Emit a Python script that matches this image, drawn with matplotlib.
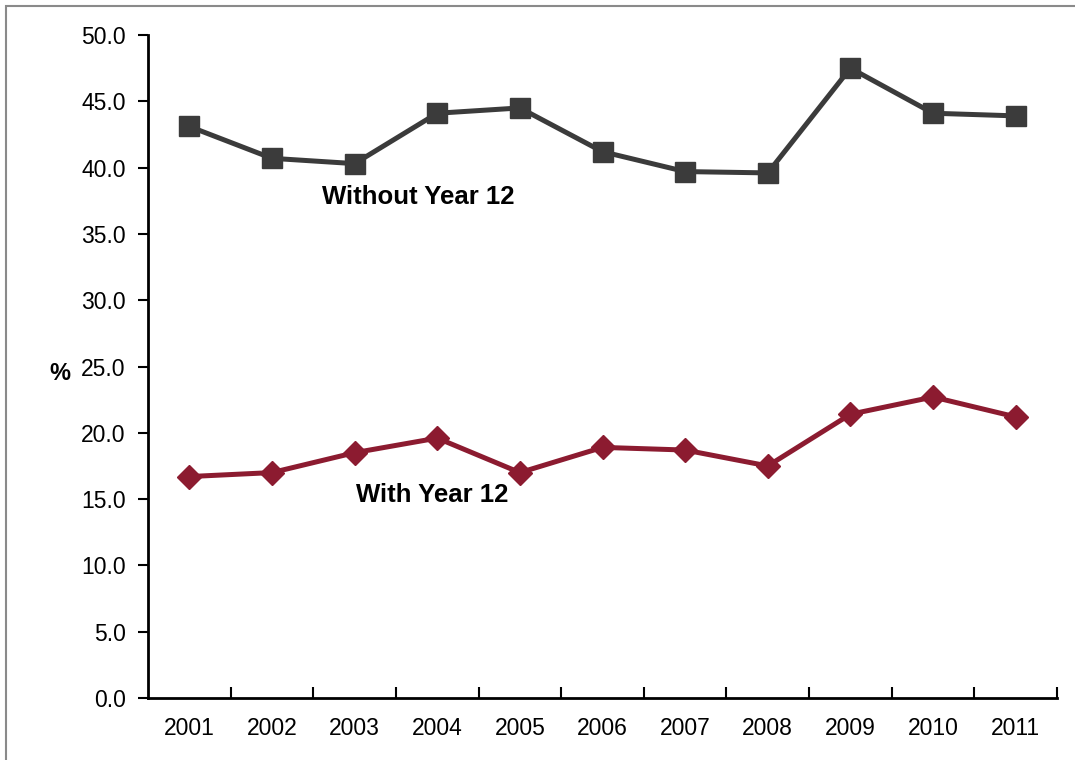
import matplotlib
matplotlib.use("Agg")
import matplotlib.pyplot as plt
from matplotlib.patches import Rectangle
from matplotlib.ticker import FixedLocator, MultipleLocator, FormatStrFormatter

years = ["2001", "2002", "2003", "2004", "2005", "2006", "2007", "2008", "2009", "2010", "2011"]
without_year12 = [43.1, 40.7, 40.3, 44.1, 44.5, 41.2, 39.7, 39.6, 47.5, 44.1, 43.9]
with_year12 = [16.7, 17.0, 18.5, 19.6, 17.0, 18.9, 18.7, 17.5, 21.4, 22.7, 21.2]

plt.rcParams["font.family"] = ["Liberation Sans", "DejaVu Sans"]

fig = plt.figure(figsize=(10.75, 7.6), dpi=100)
ax = fig.add_axes([148 / 1075, 1 - 698 / 760, (1057 - 148) / 1075, (698 - 35) / 760])

x = list(range(len(years)))
dark = "#3b3b3b"
red = "#8c1b30"

ax.plot(x, without_year12, color=dark, lw=3.6, marker="s", ms=14, zorder=3)
ax.plot(x, with_year12, color=red, lw=3.6, marker="D", ms=12, zorder=3)

ax.set_xlim(-0.5, len(years) - 0.5)
ax.set_ylim(0, 50)

ax.yaxis.set_major_locator(MultipleLocator(5))
ax.yaxis.set_major_formatter(FormatStrFormatter("%.1f"))
ax.tick_params(axis="y", direction="out", length=7, width=1.5, labelsize=16.5, pad=9, color="black")

# year labels sit between boundary ticks
ax.set_xticks(x)
ax.set_xticklabels(years)
ax.tick_params(axis="x", which="major", length=0, labelsize=16.5, pad=14)
ax.xaxis.set_minor_locator(FixedLocator([i + 0.5 for i in range(len(years))]))
ax.tick_params(axis="x", which="minor", direction="in", length=8, width=1.5, color="black")

for side in ["top", "right"]:
    ax.spines[side].set_visible(False)
for side in ["left", "bottom"]:
    ax.spines[side].set_linewidth(2)

ax.set_ylabel("%", rotation=0, fontsize=17, fontweight="bold", va="center")
ax.yaxis.set_label_coords(-0.097, 0.49)

ax.text(2.77, 37.8, "Without Year 12", fontsize=18.5, fontweight="bold", ha="center", va="center")
ax.text(2.94, 15.3, "With Year 12", fontsize=18.5, fontweight="bold", ha="center", va="center")

# thin frame around the figure
fig.patches.append(Rectangle((6 / 1075, -0.01), 1.2, 1 - 6 / 760 + 0.01, transform=fig.transFigure,
                             fill=False, edgecolor="#8a8a8a", lw=1.5))

fig.savefig("out.png", dpi=100)
